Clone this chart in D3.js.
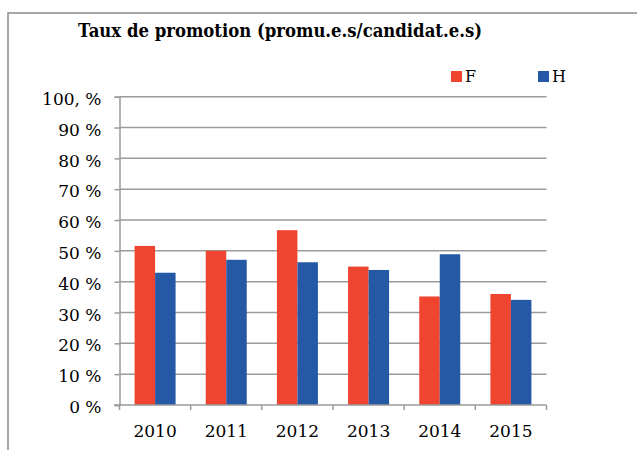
<!DOCTYPE html>
<html>
<head>
<meta charset="utf-8">
<script src="https://cdn.jsdelivr.net/npm/d3@7"></script>
<style>
  body { margin: 0; background: #fff; }
  svg text { font-family: "DejaVu Serif", serif; fill: #000; }
</style>
</head>
<body>
<div class="chart"></div>
<script>
const years = ["2010", "2011", "2012", "2013", "2014", "2015"];
const seriesNames = ["F", "H"];
const valuesF = [51.6, 50.0, 56.7, 44.9, 35.2, 36.0];
const valuesH = [42.9, 47.1, 46.3, 43.8, 48.9, 34.1];
const yTicks = [0, 10, 20, 30, 40, 50, 60, 70, 80, 90, 100];
const colours = { F: "#ef4430", H: "#2559a5" };

const width = 637, height = 450;

const svg = d3.select(".chart").append("svg")
    .attr("width", width)
    .attr("height", height);

// frame (runs off the right and bottom of the picture)
svg.append("rect")
    .attr("x", 8)
    .attr("y", 13)
    .attr("width", 700)
    .attr("height", 500)
    .attr("fill", "none")
    .attr("stroke", "#8a8a8a")
    .attr("stroke-width", 1.5);

svg.append("text")
    .text("Taux de promotion (promu.e.s/candidat.e.s)")
    .attr("x", 78)
    .attr("y", 37)
    .attr("textLength", 404)
    .attr("lengthAdjust", "spacingAndGlyphs")
    .style("font-size", "19px")
    .style("font-weight", "bold");

const x = d3.scaleBand()
    .domain(years)
    .range([119.5, 546.5]);

const xInner = d3.scaleBand()
    .domain(seriesNames)
    .range([x.bandwidth() / 2 - 20.5, x.bandwidth() / 2 + 20.5]);

const y = d3.scaleLinear()
    .domain([0, 100])
    .range([405, 96.7]);

// grid
svg.append("g").selectAll("line")
    .data(yTicks.filter(d => d > 0))
    .enter()
    .append("line")
    .attr("x1", 119.5)
    .attr("x2", 546.5)
    .attr("y1", d => y(d))
    .attr("y2", d => y(d))
    .attr("stroke", "#9a9a9a")
    .attr("stroke-width", 1.5);

const yAxis = d3.axisLeft(y)
    .tickValues(yTicks)
    .tickSize(5)
    .tickFormat(d => d === 100 ? "100, %" : d + " %");

const yAxisEl = svg.append("g")
    .attr("transform", "translate(119.5,0)")
    .call(yAxis);

yAxisEl.select(".domain").attr("stroke", "#9a9a9a").attr("stroke-width", 1.5);
yAxisEl.selectAll(".tick line").attr("stroke", "#9a9a9a").attr("stroke-width", 1.5);
yAxisEl.selectAll(".tick text")
    .attr("x", -18)
    .attr("dy", "0.45em")
    .style("font-size", "17px")
    .style("font-family", "DejaVu Serif, serif")
    .attr("fill", "#000");

const groups = svg.append("g").selectAll("g")
    .data(years)
    .enter()
    .append("g")
    .attr("transform", d => "translate(" + x(d) + ",0)");

groups.selectAll("rect")
    .data((d, i) => [{ k: "F", v: valuesF[i] }, { k: "H", v: valuesH[i] }])
    .enter()
    .append("rect")
    .attr("x", d => xInner(d.k))
    .attr("width", xInner.bandwidth())
    .attr("y", d => y(d.v))
    .attr("height", d => y(0) - y(d.v))
    .attr("fill", d => colours[d.k]);

const xAxis = d3.axisBottom(x)
    .tickSizeOuter(0)
    .tickSize(0);

const xAxisEl = svg.append("g")
    .attr("transform", "translate(0,405)")
    .call(xAxis);

xAxisEl.select(".domain").remove();
xAxisEl.selectAll(".tick text")
    .attr("y", 20)
    .attr("dy", "0.71em")
    .style("font-size", "17px")
    .style("font-family", "DejaVu Serif, serif")
    .attr("fill", "#000");

// x axis line and category separators
svg.append("line")
    .attr("x1", 114)
    .attr("x2", 546.5)
    .attr("y1", 405)
    .attr("y2", 405)
    .attr("stroke", "#9a9a9a")
    .attr("stroke-width", 1.5);

svg.append("g").selectAll("line")
    .data(years.concat(["end"]))
    .enter()
    .append("line")
    .attr("x1", d => d === "end" ? x.range()[1] : x(d))
    .attr("x2", d => d === "end" ? x.range()[1] : x(d))
    .attr("y1", 405)
    .attr("y2", 410)
    .attr("stroke", "#9a9a9a")
    .attr("stroke-width", 1.5);

// legend
const legendX = { F: 451, H: 538 };
const legend = svg.append("g").selectAll("g")
    .data(seriesNames)
    .enter()
    .append("g")
    .attr("transform", d => "translate(" + legendX[d] + ",71)");

legend.append("rect")
    .attr("width", 11)
    .attr("height", 11)
    .attr("fill", d => colours[d]);

legend.append("text")
    .text(d => d)
    .attr("x", 14)
    .attr("y", 11)
    .style("font-size", "16px");
</script>
</body>
</html>
